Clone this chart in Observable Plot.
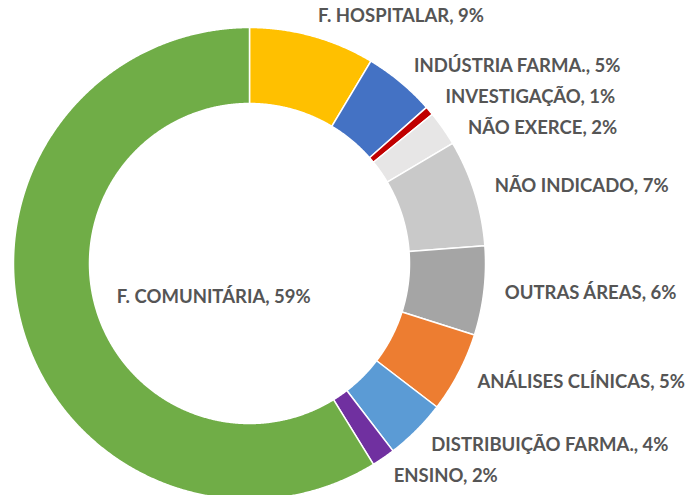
<!DOCTYPE html>
<html>
<head>
<meta charset="utf-8">
<script src="https://cdn.jsdelivr.net/npm/d3@7"></script>
<script src="https://cdn.jsdelivr.net/npm/@observablehq/plot@0.6"></script>
<style>
  html, body { margin: 0; padding: 0; background: #ffffff; }
  #chart { width: 697px; height: 495px; overflow: hidden; }
</style>
</head>
<body>
<div id="chart"></div>
<script>
// ---- data ----
const categories = ["F. HOSPITALAR", "INDÚSTRIA FARMA.", "INVESTIGAÇÃO", "NÃO EXERCE", "NÃO INDICADO",
                    "OUTRAS ÁREAS", "ANÁLISES CLÍNICAS", "DISTRIBUIÇÃO FARMA.", "ENSINO", "F. COMUNITÁRIA"];
const values = [8.6, 4.9, 0.6, 2.4, 7.3, 6.1, 5.5, 4.2, 1.6, 58.8];
const percentLabels = ["9%", "5%", "1%", "2%", "7%", "6%", "5%", "4%", "2%", "59%"];
const colors = ["#FFC000", "#4472C4", "#C00000", "#E7E6E6", "#C9C9C9",
                "#A5A5A5", "#ED7D31", "#5B9BD5", "#7030A0", "#70AD47"];

// ---- layout ----
const W = 697, H = 495;
const cx = 249, cy = 263;          // donut centre in pixels
const outerR = 236, innerR = 160;  // radii in pixels
const labelR = 257, insideLabelR = 138, minGap = 31;

// angles (clockwise from top)
const total = d3.sum(values);
let acc = 0;
const slices = categories.map((c, i) => {
  const a0 = acc / total * 2 * Math.PI;
  acc += values[i];
  const a1 = acc / total * 2 * Math.PI;
  return {key: c, i, a0, a1, mid: (a0 + a1) / 2};
});

// polygon outline of each ring segment
const pts = [];
for (const s of slices) {
  const n = Math.max(2, Math.ceil((s.a1 - s.a0) / 0.005));
  const ring = [];
  for (let k = 0; k <= n; k++) {
    const a = s.a0 + (s.a1 - s.a0) * k / n;
    ring.push([outerR * Math.sin(a), outerR * Math.cos(a)]);
  }
  for (let k = n; k >= 0; k--) {
    const a = s.a0 + (s.a1 - s.a0) * k / n;
    ring.push([innerR * Math.sin(a), innerR * Math.cos(a)]);
  }
  ring.push(ring[0]);
  ring.forEach(([x, y]) => pts.push({key: s.key, x, y}));
}

// label placement: right half outside with vertical de-overlap, left half inside the hole
const labels = [];
let prevY = -Infinity;
for (const s of slices) {
  const text = `${s.key}, ${percentLabels[s.i]}`;
  if (s.mid < Math.PI) {
    let y = labelR * Math.cos(s.mid);        // data units, y up
    if (prevY !== -Infinity && y > prevY - minGap) y = prevY - minGap;
    prevY = y;
    const x = Math.sqrt(Math.max(0, labelR * labelR - y * y));
    labels.push({x, y, text});
  } else {
    labels.push({x: insideLabelR * Math.sin(s.mid), y: insideLabelR * Math.cos(s.mid) + 4, text});
  }
}

const chart = Plot.plot({
  width: W,
  height: H,
  margin: 0,
  x: {domain: [-cx, W - cx], range: [0, W], axis: null},
  y: {domain: [cy - H, cy], range: [H, 0], axis: null},
  color: {domain: categories, range: colors},
  style: {background: "#ffffff", overflow: "hidden"},
  marks: [
    Plot.line(pts, {x: "x", y: "y", z: "key", fill: "key", stroke: "#ffffff", strokeWidth: 1.5, curve: "linear"}),
    Plot.text(labels, {x: "x", y: "y", text: "text", textAnchor: "start", lineAnchor: "middle",
      fill: "#555555", fontWeight: "bold", fontSize: 18.5, fontFamily: "Lato"})
  ]
});
document.getElementById("chart").appendChild(chart);
</script>
</body>
</html>
